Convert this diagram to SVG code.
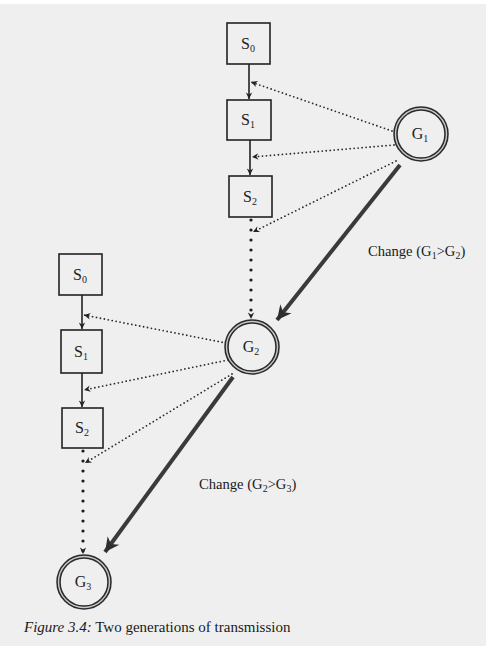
<svg xmlns="http://www.w3.org/2000/svg" width="491" height="646" viewBox="0 0 491 646">
  <defs>
    <style>
      .box { fill: none; stroke: #222; stroke-width: 1.6; }
      .ring-o { fill: none; stroke: #2a2a2a; stroke-width: 4.5; }
      .ring-i { fill: none; stroke: #c8c8c8; stroke-width: 1.4; }
      .lbl { font-family: "Liberation Serif", "DejaVu Serif", serif; font-size: 16px; fill: #222; text-anchor: middle; }
      .sub { font-size: 10px; }
      .chg { font-family: "Liberation Serif", "DejaVu Serif", serif; font-size: 14.6px; fill: #1a1a1a; }
      .cap { font-family: "Liberation Serif", "DejaVu Serif", serif; font-size: 15px; fill: #1a1a1a; }
      .step { fill: none; stroke: #222; stroke-width: 1.6; marker-end: url(#tip); }
      .fine { fill: none; stroke: #2a2a2a; stroke-width: 1.8; stroke-linecap: round; stroke-dasharray: 0 4; marker-end: url(#tip); }
      .bold { fill: none; stroke: #1a1a1a; stroke-width: 3.2; stroke-linecap: round; stroke-dasharray: 0 10; marker-end: url(#tip); }
      .change { fill: none; stroke: #3a3a3a; stroke-width: 4; marker-end: url(#barb); }
    </style>
    <marker id="tip" markerUnits="userSpaceOnUse" viewBox="0 0 10 10" refX="9" refY="5" markerWidth="8" markerHeight="8" orient="auto">
      <path d="M1,1 L9,5 L1,9 L3.5,5 Z" fill="#222"/>
    </marker>
    <marker id="barb" markerUnits="userSpaceOnUse" viewBox="0 0 20 20" refX="18" refY="10" markerWidth="18" markerHeight="18" orient="auto">
      <path d="M18,10 L2,2 L7,10 L2,18 Z" fill="#2e2e2e"/>
    </marker>
  </defs>

  <!-- page -->
  <rect x="0" y="0" width="491" height="646" fill="#ffffff"/>
  <rect x="0" y="4" width="486" height="642" fill="#efefef"/>

  <!-- connectors -->
  <g id="connectors">
    <!-- first generation -->
    <line class="step" x1="249" y1="64" x2="249" y2="99"/>
    <line class="step" x1="250" y1="140" x2="250" y2="175"/>
    <line class="bold" x1="251" y1="220" x2="251" y2="319"/>
    <line class="fine" x1="392" y1="131" x2="251" y2="82"/>
    <line class="fine" x1="394" y1="145" x2="252" y2="157"/>
    <line class="fine" x1="396" y1="161" x2="253" y2="232"/>
    <line class="change" x1="400" y1="165" x2="277" y2="320"/>
    <!-- second generation -->
    <line class="step" x1="82" y1="295" x2="82" y2="329"/>
    <line class="step" x1="82" y1="373" x2="82" y2="407"/>
    <line class="bold" x1="83" y1="451" x2="83" y2="554"/>
    <line class="fine" x1="226" y1="343" x2="84" y2="315"/>
    <line class="fine" x1="228" y1="360" x2="84" y2="390"/>
    <line class="fine" x1="232" y1="374" x2="85" y2="463"/>
    <line class="change" x1="233" y1="377" x2="105" y2="552"/>
  </g>

  <!-- first generation states -->
  <g id="s0a">
    <rect class="box" x="227" y="23" width="43" height="41"/>
    <text class="lbl" x="248" y="49">S<tspan class="sub" dy="3">0</tspan></text>
  </g>
  <g id="s1a">
    <rect class="box" x="227" y="100" width="44" height="40"/>
    <text class="lbl" x="248" y="125">S<tspan class="sub" dy="3">1</tspan></text>
  </g>
  <g id="s2a">
    <rect class="box" x="229" y="176" width="43" height="41"/>
    <text class="lbl" x="250" y="202">S<tspan class="sub" dy="3">2</tspan></text>
  </g>

  <!-- second generation states -->
  <g id="s0b">
    <rect class="box" x="59" y="254" width="43" height="41"/>
    <text class="lbl" x="80" y="280">S<tspan class="sub" dy="3">0</tspan></text>
  </g>
  <g id="s1b">
    <rect class="box" x="61" y="330" width="41" height="43"/>
    <text class="lbl" x="81" y="357">S<tspan class="sub" dy="3">1</tspan></text>
  </g>
  <g id="s2b">
    <rect class="box" x="62" y="408" width="41" height="40"/>
    <text class="lbl" x="82" y="433">S<tspan class="sub" dy="3">2</tspan></text>
  </g>

  <!-- generations -->
  <g id="g1">
    <circle class="ring-o" cx="421" cy="134" r="25.5"/>
    <circle class="ring-i" cx="421" cy="134" r="25.5"/>
    <text class="lbl" x="420" y="139">G<tspan class="sub" dy="3">1</tspan></text>
  </g>
  <g id="g2">
    <circle class="ring-o" cx="252" cy="347" r="25.5"/>
    <circle class="ring-i" cx="252" cy="347" r="25.5"/>
    <text class="lbl" x="251" y="352">G<tspan class="sub" dy="3">2</tspan></text>
  </g>
  <g id="g3">
    <circle class="ring-o" cx="84" cy="582" r="25.5"/>
    <circle class="ring-i" cx="84" cy="582" r="25.5"/>
    <text class="lbl" x="83" y="587">G<tspan class="sub" dy="3">3</tspan></text>
  </g>

  <!-- change labels -->
  <text class="chg" x="368" y="256">Change (G<tspan font-size="10" dy="3">1</tspan><tspan dy="-3">&gt;G</tspan><tspan font-size="10" dy="3">2</tspan><tspan dy="-3">)</tspan></text>
  <text class="chg" x="199" y="489">Change (G<tspan font-size="10" dy="3">2</tspan><tspan dy="-3">&gt;G</tspan><tspan font-size="10" dy="3">3</tspan><tspan dy="-3">)</tspan></text>

  <!-- caption -->
  <text class="cap" x="24" y="632"><tspan font-style="italic">Figure 3.4:</tspan> Two generations of transmission</text>
</svg>
